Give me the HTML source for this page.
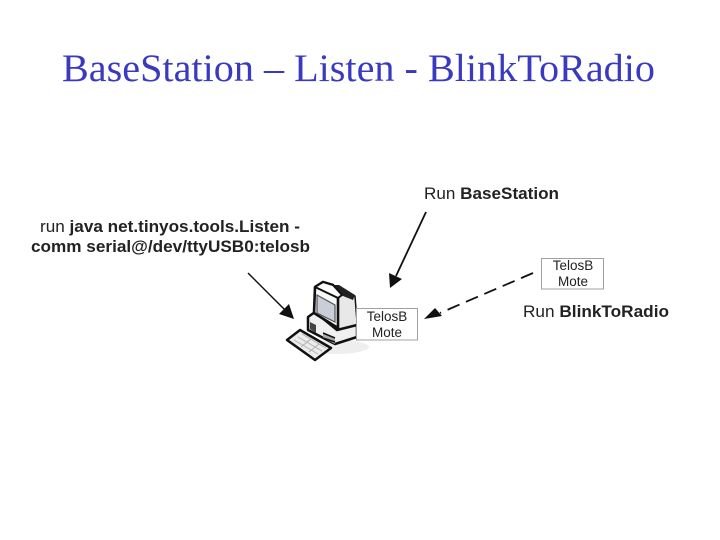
<!DOCTYPE html>
<html>
<head>
<meta charset="utf-8">
<style>
html,body{margin:0;padding:0;background:#fff;width:720px;height:540px;overflow:hidden}
svg{display:block}
.s{font-family:"Liberation Sans",Arial,sans-serif;fill:#222}
</style>
</head>
<body>
<svg width="720" height="540" viewBox="0 0 720 540" xmlns="http://www.w3.org/2000/svg">
<rect width="720" height="540" fill="#fff"/>
<text x="62" y="81" font-family="Liberation Serif,serif" font-size="39" fill="#3a3ac0" textLength="593" lengthAdjust="spacingAndGlyphs">BaseStation – Listen - BlinkToRadio</text>

<text class="s" x="40" y="232" font-size="17" textLength="260" lengthAdjust="spacingAndGlyphs">run <tspan font-weight="bold">java net.tinyos.tools.Listen -</tspan></text>
<text class="s" x="31" y="252" font-size="17" font-weight="bold" textLength="279" lengthAdjust="spacingAndGlyphs">comm serial@/dev/ttyUSB0:telosb</text>
<text class="s" x="424" y="199" font-size="17" textLength="135" lengthAdjust="spacingAndGlyphs">Run <tspan font-weight="bold">BaseStation</tspan></text>
<text class="s" x="523" y="317" font-size="17" textLength="146" lengthAdjust="spacingAndGlyphs">Run <tspan font-weight="bold">BlinkToRadio</tspan></text>

<!-- arrows -->
<line x1="248" y1="273" x2="286" y2="311" stroke="#111" stroke-width="1.5"/>
<polygon points="294,319 279,314 289,304" fill="#111"/>
<line x1="426" y1="212" x2="396" y2="276" stroke="#111" stroke-width="1.8"/>
<polygon points="390,288 389,273 402,279" fill="#111"/>
<line x1="533" y1="273" x2="440" y2="313" stroke="#111" stroke-width="1.8" stroke-dasharray="13 7"/>
<polygon points="424,319 435,308 442,316" fill="#111"/>

<!-- computer -->
<ellipse cx="335" cy="347" rx="34" ry="7" fill="#eee"/>
<!-- tower right side, behind monitor -->
<polygon points="333,286 355,296 357,322 357,337 337,330" fill="#e8e8e8" stroke="#111" stroke-width="1.500" stroke-linejoin="round"/>
<polygon points="333,285 339,285 355,295 353,300 343,296" fill="#222"/>
<!-- base -->
<polygon points="308,317 315,312 337,330 357,325 357,337 335,344 308,330" fill="#f0f0f0" stroke="#111" stroke-width="2.5" stroke-linejoin="round"/>
<polygon points="310,322 316,325 316,333 310,329" fill="#444"/>
<polygon points="323,333 335,339 335,344 323,338" fill="#aaa"/>
<line x1="323" y1="333" x2="335" y2="338" stroke="#111" stroke-width="1.500"/>
<line x1="323" y1="338" x2="335" y2="342" stroke="#111" stroke-width="1.500"/>
<!-- monitor -->
<polygon points="315,287 323,282 333,285 338,298 338,328 314,313" fill="#f8f8f8" stroke="#111" stroke-width="2.6" stroke-linejoin="round"/>
<polygon points="323,282 333,285 342,295 338,298 315,287" fill="#fff" stroke="#111" stroke-width="2" stroke-linejoin="round"/>
<polygon points="317,295 335,305 335,322 317,313" fill="#c9ced9" stroke="#555" stroke-width="1.200"/>
<!-- keyboard -->
<polygon points="287,340 300,330 331,348 315,360" fill="#ececec" stroke="#111" stroke-width="2.5" stroke-linejoin="round"/>
<g stroke="#b0b0b0" stroke-width="1">
<line x1="294" y1="340" x2="318" y2="354"/>
<line x1="298" y1="337" x2="322" y2="351"/>
<line x1="302" y1="334" x2="326" y2="348"/>
<line x1="301" y1="347" x2="311" y2="339"/>
<line x1="309" y1="352" x2="319" y2="344"/>
</g>

<!-- boxes -->
<rect x="356.500" y="308.500" width="61" height="31.500" fill="#fff" stroke="#a0a0a0"/>
<text class="s" x="387" y="321" text-anchor="middle" font-size="13.500">TelosB</text>
<text class="s" x="387" y="337" text-anchor="middle" font-size="13.500">Mote</text>
<rect x="541.500" y="258.500" width="62" height="30.500" fill="#fff" stroke="#a0a0a0"/>
<text class="s" x="573" y="270" text-anchor="middle" font-size="13.500">TelosB</text>
<text class="s" x="573" y="286" text-anchor="middle" font-size="13.500">Mote</text>
</svg>
</body>
</html>
